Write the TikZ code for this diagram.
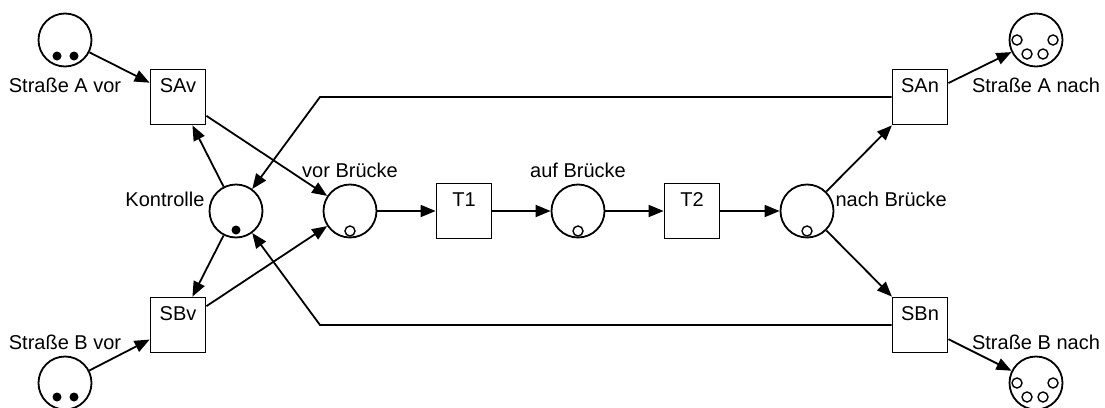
\documentclass[tikz,border=0pt]{standalone}
\usepackage{fontspec}
\setmainfont{Liberation Sans}
\usetikzlibrary{arrows.meta}

\begin{document}
\begin{tikzpicture}[x=1pt, y=-1pt,
		every node/.style={font=\fontsize{20}{24}\selectfont},
		place/.style={circle, draw, line width=1.8pt, minimum size=53pt, inner sep=0pt},
		trans/.style={rectangle, draw, line width=1.8pt, minimum size=55pt, inner sep=0pt},
		tlabel/.style={anchor=north, yshift=-8pt, inner sep=2pt},
		plabel/.style={inner sep=2pt},
		arc/.style={line width=1.8pt, -{Triangle[length=15pt, width=12pt]}},
		hollow/.style={draw, line width=1.4pt, fill=white}
	]
		\useasboundingbox (0,0) rectangle (1105,407);

		% Places
		\node[place, label={[plabel, yshift=-8pt]below:Straße A vor}] (pAvor) at (65,40) {};
		\node[place, label={[plabel, yshift=4pt]above:Straße B vor}] (pBvor) at (65,383) {};
		\node[place, label={[plabel, xshift=-2pt, yshift=12pt]left:Kontrolle}] (kontrolle) at (236,211) {};
		\node[place, label={[plabel, yshift=4pt]above:vor Brücke}] (vorB) at (350,211) {};
		\node[place, label={[plabel, yshift=4pt]above:auf Brücke}] (aufB) at (578,211) {};
		\node[place, label={[plabel, xshift=-1pt, yshift=12pt]right:nach Brücke}] (nachB) at (807,211) {};
		\node[place, label={[plabel, yshift=-8pt]below:Straße A nach}] (pAnach) at (1036,40) {};
		\node[place, label={[plabel, yshift=4pt]above:Straße B nach}] (pBnach) at (1036,383) {};

		% Transitions
		\foreach \name/\x/\y in {SAv/178/97, SBv/178/325, T1/464/211, T2/692/211, SAn/920/97, SBn/920/325} {
				\node[trans, label={[tlabel]north:\name}] (\name) at (\x,\y) {};
			}

		% Tokens
		\foreach \p/\dy in {pAvor/16, pBvor/14} {
				\fill (\p) ++(-8,\dy) circle[radius=4.5pt];
				\fill (\p) ++(9,\dy) circle[radius=4.5pt];
			}
		\fill (kontrolle) ++(0,19) circle[radius=4.5pt];
		\foreach \p in {vorB, aufB, nachB} {
				\path[hollow] (\p) ++(0,20) circle[radius=5pt];
			}
		\foreach \p in {pAnach, pBnach} {
				\foreach \dx/\dy in {-19/0, 17/0, -9/14, 7/14} {
						\path[hollow] (\p) ++(\dx,\dy) circle[radius=5pt];
					}
			}

		% Arcs
		\foreach \a/\b in {pAvor/SAv, pBvor/SBv, kontrolle/SAv, kontrolle/SBv, SAv/vorB, SBv/vorB,
				vorB/T1, T1/aufB, aufB/T2, T2/nachB, nachB/SAn, nachB/SBn, SAn/pAnach, SBn/pBnach} {
				\draw[arc] (\a) -- (\b);
			}

		% Return to Kontrolle
		\coordinate (bendA) at (320,97);
		\coordinate (bendB) at (320,325);
		\draw[arc] (SAn) -- (bendA) -- (kontrolle);
		\draw[arc] (SBn) -- (bendB) -- (kontrolle);
	\end{tikzpicture}
\end{document}
